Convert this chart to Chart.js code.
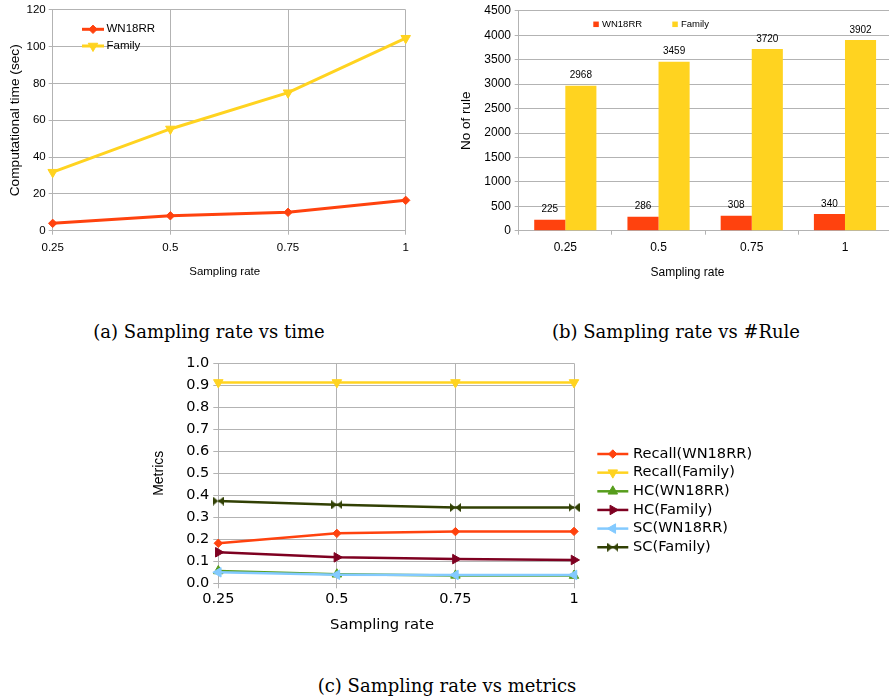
<!DOCTYPE html>
<html lang="en">
<head>
<meta charset="UTF-8" />
<title>Sampling rate charts</title>
<style>
body {
  margin: 0;
  background: #fff;
  width: 889px;
  height: 698px;
  overflow: hidden;
  position: relative;
}
canvas { position: absolute; }
#timeChart { left: 0; top: 0; }
#ruleChart { left: 450px; top: 0; }
#metricChart { left: 4px; top: 350px; }
.caption {
  position: absolute;
  font-family: 'DejaVu Serif', serif;
  font-size: 18px;
  line-height: 24px;
  white-space: nowrap;
  transform: translateX(-50%);
  color: #000;
}
</style>
</head>
<body>
<canvas id="timeChart" width="449" height="290"></canvas>
<canvas id="ruleChart" width="475" height="290"></canvas>
<canvas id="metricChart" width="756" height="290"></canvas>
<div class="caption" style="left:209px; top:320px">(a) Sampling rate vs time</div>
<div class="caption" style="left:676px; top:320px">(b) Sampling rate vs #Rule</div>
<div class="caption" style="left:447px; top:674px">(c) Sampling rate vs metrics</div>

<script src="https://cdn.jsdelivr.net/npm/chart.js"></script>
<script>
// data
const rates = ['0.25', '0.5', '0.75', '1'];

const timeWN18RR = [4.0, 8.1, 10.0, 16.5];
const timeFamily = [31.8, 55.3, 75.0, 104.6];

const rulesWN18RR = [225, 286, 308, 340];
const rulesFamily = [2968, 3459, 3720, 3902];

const recallWN18RR = [0.182, 0.227, 0.235, 0.236];
const recallFamily = [0.913, 0.913, 0.913, 0.913];
const hcWN18RR = [0.056, 0.041, 0.036, 0.035];
const hcFamily = [0.141, 0.118, 0.110, 0.106];
const scWN18RR = [0.050, 0.039, 0.038, 0.038];
const scFamily = [0.374, 0.357, 0.344, 0.345];

const orange = '#ff420e', yellow = '#ffd320', green = '#579d1c',
      maroon = '#7e0021', sky = '#83caff', olive = '#314004';
const gridColor = '#b3b3b3';
const sans = '"Liberation Sans", Arial, sans-serif';
const dejavu = '"DejaVu Sans", sans-serif';

Chart.defaults.color = '#000';
Chart.defaults.animation = false;

// bowtie marker (two triangles tip to tip)
function bowtie(color) {
  const c = document.createElement('canvas');
  c.width = 11; c.height = 9;
  const g = c.getContext('2d');
  g.fillStyle = color;
  g.beginPath();
  g.moveTo(0, 0); g.lineTo(5.5, 4.5); g.lineTo(0, 9); g.closePath();
  g.moveTo(11, 0); g.lineTo(5.5, 4.5); g.lineTo(11, 9); g.closePath();
  g.fill();
  return c;
}

// legend with a line and its marker, drawn inside the canvas
const lineLegend = {
  id: 'lineLegend',
  afterDraw(chart, args, o) {
    const ctx = chart.ctx;
    ctx.save();
    ctx.font = o.textFont;
    ctx.textBaseline = 'middle';
    chart.data.datasets.forEach((ds, i) => {
      const y = o.y + i * o.rowHeight;
      ctx.strokeStyle = ds.borderColor;
      ctx.lineWidth = ds.borderWidth;
      ctx.beginPath();
      ctx.moveTo(o.x, y);
      ctx.lineTo(o.x + o.lineLength, y);
      ctx.stroke();
      ctx.fillStyle = ds.backgroundColor;
      ctx.lineWidth = 1;
      Chart.helpers.drawPoint(ctx, {
        pointStyle: ds.pointStyle,
        rotation: ds.pointRotation || 0,
        radius: ds.pointRadius,
        borderWidth: 1
      }, o.x + o.lineLength / 2, y);
      ctx.fillStyle = '#000';
      ctx.fillText(ds.label, o.x + o.lineLength + o.gap, y);
    });
    ctx.restore();
  }
};

// legend with small square boxes laid out in a row
const boxLegend = {
  id: 'boxLegend',
  afterDraw(chart, args, o) {
    const ctx = chart.ctx;
    ctx.save();
    ctx.font = o.textFont;
    ctx.textBaseline = 'middle';
    chart.data.datasets.forEach((ds, i) => {
      const x = o.x + i * o.itemWidth;
      ctx.fillStyle = ds.backgroundColor;
      ctx.fillRect(x, o.y - o.boxSize / 2, o.boxSize, o.boxSize);
      ctx.fillStyle = '#000';
      ctx.fillText(ds.label, x + o.boxSize + o.gap, o.y);
    });
    ctx.restore();
  }
};

// value printed above every bar
const barValues = {
  id: 'barValues',
  afterDatasetsDraw(chart, args, o) {
    const ctx = chart.ctx;
    ctx.save();
    ctx.font = o.textFont;
    ctx.fillStyle = '#000';
    ctx.textAlign = 'center';
    ctx.textBaseline = 'middle';
    chart.data.datasets.forEach((ds, i) => {
      chart.getDatasetMeta(i).data.forEach((bar, j) => {
        ctx.fillText(ds.data[j], bar.x, bar.y - o.offset);
      });
    });
    ctx.restore();
  }
};

// x axis title, placed like the office suite does (centred on the whole chart, not the plot)
const xTitle = {
  id: 'xTitle',
  afterDraw(chart, args, o) {
    const ctx = chart.ctx;
    ctx.save();
    ctx.font = o.textFont;
    ctx.fillStyle = '#000';
    ctx.textAlign = 'center';
    ctx.textBaseline = 'middle';
    ctx.fillText(o.text, o.x, o.y);
    ctx.restore();
  }
};

function lineSet(label, data, color, style, rotation, radius, width) {
  return {
    label: label,
    data: data,
    borderColor: color,
    backgroundColor: color,
    borderWidth: width,
    pointStyle: style,
    pointRotation: rotation,
    pointRadius: radius,
    pointHoverRadius: radius,
    pointBorderWidth: 1,
    tension: 0
  };
}

// (a) sampling rate vs time
new Chart(document.getElementById('timeChart'), {
  type: 'line',
  data: {
    labels: rates,
    datasets: [
      lineSet('WN18RR', timeWN18RR, orange, 'rectRot', 0, 4.2, 3),
      lineSet('Family', timeFamily, yellow, 'triangle', 180, 5.5, 3)
    ]
  },
  options: {
    responsive: false,
    layout: { padding: { top: 9.3, right: 43.3, left: 0, bottom: 0 } },
    plugins: {
      legend: { display: false },
      tooltip: { enabled: false },
      xTitle: { text: 'Sampling rate', x: 224.7, y: 272, textFont: '11.5px ' + sans },
      lineLegend: { x: 82, y: 29.3, rowHeight: 16.7, lineLength: 22, gap: 2.5, textFont: '11.5px ' + sans }
    },
    scales: {
      x: {
        grid: { color: gridColor, tickLength: 4 },
        border: { color: gridColor },
        ticks: { font: { family: sans, size: 11.5 }, padding: 6, maxRotation: 0 },
        afterFit: s => { s.height = 59.3; }
      },
      y: {
        min: 0, max: 120,
        grid: { color: gridColor, tickLength: 4 },
        border: { color: gridColor },
        ticks: { stepSize: 20, font: { family: sans, size: 11.5 }, padding: 3 },
        title: {
          display: true, text: 'Computational time (sec)',
          font: { family: sans, size: 13.7 }, padding: { top: 6.8, bottom: 0 }
        },
        afterFit: s => { s.width = 52.7; }
      }
    }
  },
  plugins: [lineLegend, xTitle]
});

// (b) sampling rate vs number of rules
new Chart(document.getElementById('ruleChart'), {
  type: 'bar',
  data: {
    labels: rates,
    datasets: [
      { label: 'WN18RR', data: rulesWN18RR, backgroundColor: orange },
      { label: 'Family', data: rulesFamily, backgroundColor: yellow }
    ]
  },
  options: {
    responsive: false,
    categoryPercentage: 0.667,
    barPercentage: 1,
    layout: { padding: { top: 9.3, right: 33.4, left: 0, bottom: 0 } },
    plugins: {
      legend: { display: false },
      tooltip: { enabled: false },
      xTitle: { text: 'Sampling rate', x: 237.5, y: 272.7, textFont: '12px ' + sans },
      boxLegend: { x: 143.3, y: 24.3, itemWidth: 79, boxSize: 5.5, gap: 3.2, textFont: '9.5px ' + sans },
      barValues: { offset: 10, textFont: '10px ' + sans }
    },
    scales: {
      x: {
        grid: { color: gridColor, offset: true, drawOnChartArea: false, tickLength: 4 },
        border: { color: gridColor },
        ticks: { font: { family: sans, size: 12 }, padding: 5.8 },
        afterFit: s => { s.height = 59.3; }
      },
      y: {
        min: 0, max: 4500,
        grid: { color: gridColor, tickLength: 4 },
        border: { color: gridColor },
        ticks: { stepSize: 500, font: { family: sans, size: 12 }, padding: 3.7, callback: v => String(v) },
        title: {
          display: true, text: 'No of rule',
          font: { family: sans, size: 13.5 }, padding: { top: 7.7, bottom: 0 }
        },
        afterFit: s => { s.width = 68.7; }
      }
    }
  },
  plugins: [boxLegend, barValues, xTitle]
});

// (c) sampling rate vs metrics
const metricSets = [
  lineSet('Recall(WN18RR)', recallWN18RR, orange, 'rectRot', 0, 4.2, 2.5),
  lineSet('Recall(Family)', recallFamily, yellow, 'triangle', 180, 5.5, 2.5),
  lineSet('HC(WN18RR)', hcWN18RR, green, 'triangle', 0, 5.5, 2.5),
  lineSet('HC(Family)', hcFamily, maroon, 'triangle', 90, 5.5, 2.5),
  lineSet('SC(WN18RR)', scWN18RR, sky, 'triangle', 270, 5.5, 2.5),
  lineSet('SC(Family)', scFamily, olive, bowtie(olive), 0, 5.5, 2.5)
];
metricSets.forEach((ds, i) => { ds.order = metricSets.length - i; });

new Chart(document.getElementById('metricChart'), {
  type: 'line',
  data: { labels: rates, datasets: metricSets },
  options: {
    responsive: false,
    layout: { padding: { top: 13.3, right: 186, left: 140, bottom: 0 } },
    plugins: {
      legend: { display: false },
      tooltip: { enabled: false },
      xTitle: { text: 'Sampling rate', x: 378, y: 275, textFont: '14.8px ' + dejavu },
      lineLegend: { x: 593.3, y: 104, rowHeight: 18.65, lineLength: 31, gap: 4.7, textFont: '14.6px ' + dejavu }
    },
    scales: {
      x: {
        grid: { color: gridColor, tickLength: 5 },
        border: { color: gridColor },
        ticks: { font: { family: dejavu, size: 14.5 }, padding: 2, maxRotation: 0 },
        afterFit: s => { s.height = 56.7; }
      },
      y: {
        min: 0, max: 1,
        grid: { color: gridColor, tickLength: 5 },
        border: { color: gridColor },
        ticks: { stepSize: 0.1, font: { family: dejavu, size: 14.5 }, padding: 4, callback: v => v.toFixed(1) },
        title: {
          display: true, text: 'Metrics',
          font: { family: sans, size: 14 }, padding: { top: 6.6, bottom: 0 }
        },
        afterFit: s => { s.width = 74.3; }
      }
    }
  },
  plugins: [lineLegend, xTitle]
});
</script>
</body>
</html>
